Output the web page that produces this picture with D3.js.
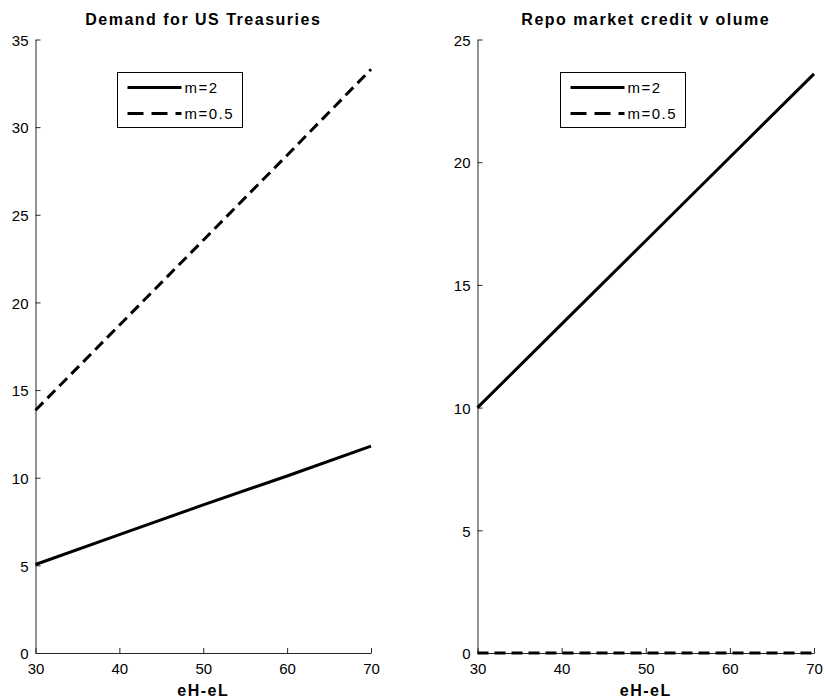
<!DOCTYPE html>
<html>
<head>
<meta charset="utf-8">
<script src="https://cdn.jsdelivr.net/npm/d3@7"></script>
<style>
  html, body { margin: 0; padding: 0; background: #fff; }
  svg { display: block; font-family: "Liberation Sans", Arial, Helvetica, sans-serif; }
</style>
</head>
<body>
<svg id="chart" width="825" height="698"></svg>
<script>
// Horizontal axis: eH-eL
const xValues = [30, 40, 50, 60, 70];

// Demand for US Treasuries
const treasuriesM2 = [5.05, 6.75, 8.45, 10.1, 11.8];
const treasuriesM05 = [13.85, 18.7, 23.55, 28.4, 33.3];

// Repo market credit volume
const repoM2 = [10.0, 13.4, 16.8, 20.2, 23.6];
const repoM05 = [0, 0, 0, 0, 0];

const seriesLabels = ["m=2", "m=0.5"];
const xTicks = [30, 40, 50, 60, 70];
const treasuriesTicks = [0, 5, 10, 15, 20, 25, 30, 35];
const repoTicks = [0, 5, 10, 15, 20, 25];

const svg = d3.select("#chart");
const axisColor = "#262626";

const panels = [
  {
    title: "Demand for US Treasuries",
    left: 35.5, right: 371, yMax: 35, yTicks: treasuriesTicks,
    solid: treasuriesM2, dashed: treasuriesM05,
    legend: { x: 117.5, y: 72.5 }
  },
  {
    title: "Repo market credit v olume",
    left: 477.5, right: 814, yMax: 25, yTicks: repoTicks,
    solid: repoM2, dashed: repoM05,
    legend: { x: 560.5, y: 72.5 }
  }
];

const plotTop = 39.5, plotBottom = 653;

panels.forEach(p => {
  const x = d3.scaleLinear().domain([30, 70]).range([p.left, p.right]);
  const y = d3.scaleLinear().domain([0, p.yMax]).range([plotBottom, plotTop]);
  const g = svg.append("g");

  // y axis: ticks point inward
  const yAxis = g.append("g")
    .attr("transform", `translate(${p.left},0)`)
    .call(d3.axisLeft(y).tickValues(p.yTicks).tickSizeInner(-5).tickSizeOuter(0).tickPadding(12));
  // x axis
  const xAxis = g.append("g")
    .attr("transform", `translate(0,${plotBottom})`)
    .call(d3.axisBottom(x).tickValues(xTicks).tickSizeInner(-5).tickSizeOuter(0).tickPadding(12));

  [yAxis, xAxis].forEach(a => {
    a.select(".domain").attr("stroke", axisColor).attr("stroke-width", 1);
    a.selectAll(".tick line").attr("stroke", axisColor);
    a.selectAll(".tick text")
      .attr("fill", "#000")
      .style("font-size", "15px")
      .style("font-family", "'Liberation Sans', Arial, sans-serif");
  });
  yAxis.selectAll(".tick text").attr("dy", "0.38em").attr("x", -7);
  xAxis.selectAll(".tick text").attr("dy", "0.71em").attr("y", 10);

  const line = d3.line().x((d, i) => x(xValues[i])).y(d => y(d));

  g.append("path").datum(p.solid)
    .attr("d", line).attr("fill", "none")
    .attr("stroke", "#000").attr("stroke-width", 3);
  g.append("path").datum(p.dashed)
    .attr("d", line).attr("fill", "none")
    .attr("stroke", "#000").attr("stroke-width", 3)
    .attr("stroke-dasharray", "11,6");

  // title
  g.append("text")
    .attr("x", (p.left + p.right) / 2).attr("y", 25)
    .attr("text-anchor", "middle")
    .style("font-size", "16px").style("font-weight", "bold")
    .style("letter-spacing", "1.5px")
    .text(p.title);

  // x label
  g.append("text")
    .attr("x", (p.left + p.right) / 2).attr("y", 696)
    .attr("text-anchor", "middle")
    .style("font-size", "16px").style("font-weight", "bold")
    .style("letter-spacing", "1.5px")
    .text("eH-eL");

  // legend
  const lg = g.append("g").attr("transform", `translate(${p.legend.x},${p.legend.y})`);
  lg.append("rect").attr("width", 125).attr("height", 55)
    .attr("fill", "#fff").attr("stroke", "#000").attr("stroke-width", 1);
  const styles = [null, "16,8"];
  seriesLabels.forEach((lab, i) => {
    const ly = 15 + i * 26;
    lg.append("line")
      .attr("x1", 10).attr("x2", 64).attr("y1", ly).attr("y2", ly)
      .attr("stroke", "#000").attr("stroke-width", 3)
      .attr("stroke-dasharray", styles[i]);
    lg.append("text")
      .attr("x", 67).attr("y", ly).attr("dy", "0.36em")
      .style("font-size", "15px").style("letter-spacing", "1.5px")
      .text(lab);
  });
});
</script>
</body>
</html>
